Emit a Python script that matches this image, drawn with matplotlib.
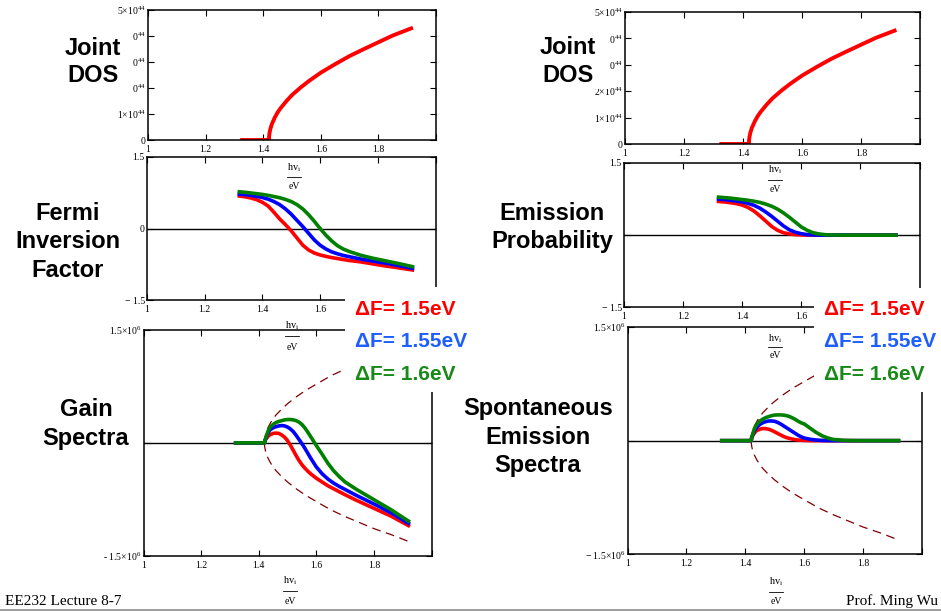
import matplotlib
matplotlib.use('Agg')
import matplotlib.pyplot as plt
from matplotlib.lines import Line2D
from matplotlib.patches import Rectangle

plt.rcParams['mathtext.fontset'] = 'custom'
plt.rcParams['mathtext.rm'] = 'Liberation Serif'
plt.rcParams['mathtext.it'] = 'Liberation Serif:italic'

# ---- data (x = photon energy in eV) ----
dos_x = [1.32, 1.40, 1.42, 1.4205, 1.422, 1.425, 1.43, 1.44, 1.45, 1.46, 1.48,
         1.50, 1.53, 1.56, 1.60, 1.65, 1.70, 1.75, 1.80, 1.85, 1.92]
dos_val = [0, 0, 0, 0.14, 0.27, 0.43, 0.61, 0.86, 1.06, 1.22, 1.49,
           1.73, 2.02, 2.28, 2.59, 2.92, 3.23, 3.50, 3.76, 4.02, 4.32]   # x1e44

fermi_x = [1.32, 1.34, 1.36, 1.38, 1.40, 1.42, 1.44, 1.46, 1.48, 1.50, 1.52,
           1.54, 1.56, 1.58, 1.60, 1.62, 1.64, 1.66, 1.68, 1.70, 1.74, 1.78,
           1.82, 1.86, 1.92]
fermi_red = [0.68, 0.665, 0.64, 0.605, 0.55, 0.47, 0.34, 0.20, 0.08, -0.05, -0.20,
             -0.35, -0.45, -0.515, -0.555, -0.585, -0.61, -0.63, -0.65, -0.67, -0.70, -0.74,
             -0.78, -0.815, -0.87]
fermi_blue = [0.72, 0.71, 0.695, 0.675, 0.65, 0.615, 0.565, 0.50, 0.41, 0.30, 0.17,
              0.04, -0.10, -0.24, -0.35, -0.43, -0.49, -0.53, -0.565, -0.59, -0.64, -0.68,
              -0.72, -0.765, -0.835]
fermi_green = [0.77, 0.76, 0.745, 0.73, 0.715, 0.695, 0.67, 0.645, 0.61, 0.565, 0.50,
               0.41, 0.29, 0.15, 0.0, -0.14, -0.26, -0.36, -0.43, -0.48, -0.56, -0.62,
               -0.67, -0.72, -0.80]

emis_red = [0.70, 0.69, 0.675, 0.655, 0.625, 0.575, 0.50, 0.40, 0.29, 0.18, 0.10,
            0.05, 0.025, 0.01, 0.004, 0, 0, 0, 0, 0, 0, 0,
            0, 0, 0]
emis_blue = [0.75, 0.74, 0.725, 0.71, 0.69, 0.66, 0.62, 0.56, 0.48, 0.39, 0.29,
             0.19, 0.11, 0.06, 0.03, 0.012, 0.005, 0, 0, 0, 0, 0,
             0, 0, 0]
emis_green = [0.79, 0.78, 0.77, 0.755, 0.74, 0.725, 0.705, 0.68, 0.645, 0.60, 0.54,
              0.46, 0.37, 0.27, 0.17, 0.10, 0.05, 0.025, 0.01, 0.004, 0, 0,
              0, 0, 0]

spec_x = [1.32, 1.40, 1.42, 1.422, 1.425, 1.43, 1.435, 1.44, 1.45, 1.46, 1.47,
          1.48, 1.49, 1.50, 1.51, 1.52, 1.53, 1.54, 1.55, 1.56, 1.57, 1.58,
          1.59, 1.60, 1.62, 1.64, 1.66, 1.68, 1.70, 1.74, 1.78, 1.82, 1.86, 1.92]
gain_red = [0, 0, 0, 0.03, 0.05, 0.075, 0.095, 0.11, 0.125, 0.13, 0.125,
            0.105, 0.075, 0.03, -0.03, -0.10, -0.17, -0.235, -0.29, -0.335, -0.375, -0.41,
            -0.44, -0.47, -0.52, -0.57, -0.61, -0.65, -0.69, -0.765, -0.835, -0.905, -0.975, -1.10]
gain_blue = [0, 0, 0, 0.035, 0.06, 0.11, 0.15, 0.175, 0.20, 0.215, 0.225,
             0.23, 0.225, 0.21, 0.185, 0.15, 0.10, 0.045, -0.01, -0.07, -0.135, -0.20,
             -0.26, -0.32, -0.41, -0.48, -0.535, -0.58, -0.62, -0.70, -0.775, -0.85, -0.93, -1.07]
gain_green = [0, 0, 0, 0.04, 0.07, 0.13, 0.18, 0.21, 0.245, 0.27, 0.285,
              0.295, 0.305, 0.31, 0.31, 0.305, 0.295, 0.275, 0.245, 0.20, 0.145, 0.085,
              0.025, -0.035, -0.15, -0.27, -0.37, -0.45, -0.52, -0.62, -0.71, -0.80, -0.89, -1.04]

spon_red = [0, 0, 0, 0.04, 0.065, 0.095, 0.12, 0.135, 0.152, 0.16, 0.158,
            0.15, 0.135, 0.115, 0.095, 0.075, 0.055, 0.04, 0.03, 0.02, 0.013, 0.008,
            0.005, 0.003, 0, 0, 0, 0, 0, 0, 0, 0, 0, 0]
spon_blue = [0, 0, 0, 0.045, 0.075, 0.12, 0.155, 0.18, 0.215, 0.238, 0.252,
             0.26, 0.26, 0.255, 0.24, 0.22, 0.195, 0.17, 0.145, 0.12, 0.095, 0.07,
             0.05, 0.035, 0.018, 0.008, 0.003, 0, 0, 0, 0, 0, 0, 0]
spon_green = [0, 0, 0, 0.05, 0.08, 0.15, 0.19, 0.22, 0.26, 0.285, 0.305,
              0.318, 0.33, 0.338, 0.34, 0.34, 0.337, 0.33, 0.318, 0.30, 0.28, 0.255,
              0.235, 0.22, 0.165, 0.11, 0.065, 0.035, 0.015, 0.003, 0, 0, 0, 0]

# dashed envelope (x1e6), drawn mirrored +/-
env_x = [1.42, 1.4205, 1.422, 1.425, 1.43, 1.44, 1.45, 1.46, 1.48, 1.50, 1.53,
         1.56, 1.60, 1.65, 1.70, 1.75, 1.80, 1.86, 1.92]
env_val = [0, 0.04, 0.08, 0.13, 0.185, 0.26, 0.32, 0.37, 0.45, 0.52, 0.61,
           0.69, 0.78, 0.89, 0.98, 1.06, 1.14, 1.22, 1.31]
env_flat_x = [1.32, 1.42]
env_flat_y = [0, 0]

x_ticks = [1, 1.2, 1.4, 1.6, 1.8]
x_ticklabels = ['1', '1.2', '1.4', '1.6', '1.8']
df_labels = ['\u0394F= 1.5eV', '\u0394F= 1.55eV', '\u0394F= 1.6eV']
df_colors = ['#ff0000', '#1e5eff', '#178a17']
line_colors = ['#ff0000', '#0000ff', '#008000']

W, H = 941, 611
fig = plt.figure(figsize=(W / 100, H / 100), dpi=100)
fig.patch.set_facecolor('white')


def px_axes(x0, y0, x1, y1):
    return fig.add_axes([x0 / W, 1 - y1 / H, (x1 - x0) / W, (y1 - y0) / H])


def ftext(x, y, s, **kw):
    return fig.text(x / W, 1 - y / H, s, **kw)


def setup(ax, ylim, yticks, ylabels, xlabels=x_ticklabels):
    ax.set_facecolor('none')
    ax.set_xlim(1, 2)
    ax.set_ylim(*ylim)
    ax.set_xticks(x_ticks + [2])
    ax.set_xticklabels(xlabels + [''], fontsize=7, family='Liberation Serif')
    ax.set_yticks(yticks)
    ax.set_yticklabels(ylabels, fontsize=7, family='Liberation Serif')
    ax.tick_params(axis='both', direction='in', top=True, right=True,
                   length=4.5, width=0.8)
    ax.tick_params(axis='x', pad=3.5)
    ax.tick_params(axis='y', pad=1.5)
    for sp in ax.spines.values():
        sp.set_linewidth(1.1)


def frac_label(xc, y_hv, y_ev):
    ftext(xc, y_hv, r'$\mathrm{hv}_\mathrm{i}$', ha='center', va='center',
          fontsize=7.5, zorder=6)
    ym = (y_hv + y_ev) / 2 - 0.5
    fig.add_artist(Line2D([(xc - 7) / W, (xc + 7) / W], [1 - ym / H, 1 - ym / H],
                          transform=fig.transFigure, color='black', lw=0.6, zorder=6))
    ftext(xc, y_ev, 'eV', ha='center', va='center', fontsize=7,
          family='Liberation Serif', zorder=6)


def white_box(x0, y0, x1, y1):
    fig.add_artist(Rectangle((x0 / W, 1 - y1 / H), (x1 - x0) / W, (y1 - y0) / H,
                             transform=fig.transFigure, facecolor='white',
                             edgecolor='none', zorder=5))


def big_label(xc, baselines, lines):
    for yb, s in zip(baselines, lines):
        ftext(xc, yb, s, ha='center', va='baseline', fontsize=17,
              fontweight='bold', family='Liberation Sans', zorder=7)


dos_ticks = [0, 1, 2, 3, 4, 5]
dos_labels = ['0'] + ['%d\u00d710$^{44}$' % k for k in range(1, 6)]
# 1.8 label of the middle panels is hidden behind the dF text on the slide
mid_xlabels = ['1', '1.2', '1.4', '1.6', '']

# ---- joint DOS (both columns) ----
for rect in [(148, 10, 436, 140), (625, 12, 920, 144)]:
    ax = px_axes(*rect)
    setup(ax, (0, 5), dos_ticks, dos_labels)
    ax.plot(dos_x, dos_val, color='#ff0000', lw=2.8, solid_capstyle='butt')

# ---- Fermi inversion factor ----
ax = px_axes(147, 157, 435.5, 300)
setup(ax, (-1.5, 1.5), [-1.5, 0, 1.5], ['\u2212 1.5', '0', '1.5'], mid_xlabels)
ax.axhline(0, color='black', lw=1.0)
for yv, c in zip([fermi_red, fermi_blue, fermi_green], line_colors):
    ax.plot(fermi_x, yv, color=c, lw=2.6)

# ---- emission probability ----
ax = px_axes(624, 163, 919.5, 307.3)
setup(ax, (-1.5, 1.5), [-1.5, 0, 1.5], ['\u2212 1.5', '', '1.5'], mid_xlabels)
ax.axhline(0, color='black', lw=1.0)
for yv, c in zip([emis_red, emis_blue, emis_green], line_colors):
    ax.plot(fermi_x, yv, color=c, lw=2.6)

# ---- gain and spontaneous emission spectra ----
spec_sets = [
    ((143.5, 330, 431.5, 555.7), [gain_red, gain_blue, gain_green],
     ['- 1.5\u00d710$^{6}$', '', '1.5\u00d710$^{6}$']),
    ((627.5, 327, 922, 554.3), [spon_red, spon_blue, spon_green],
     ['\u2212 1.5\u00d710$^{6}$', '', '1.5\u00d710$^{6}$']),
]
for rect, series, ylabs in spec_sets:
    ax = px_axes(*rect)
    setup(ax, (-1.5, 1.5), [-1.5, 0, 1.5], ylabs)
    ax.axhline(0, color='black', lw=1.0)
    for sgn in [1, -1]:
        ax.plot(env_x, [sgn * v for v in env_val], color='#800000', lw=0.9,
                dashes=(7, 4.5))
    ax.plot(env_flat_x, env_flat_y, color='#800000', lw=1.5)
    for yv, c in zip(series, line_colors):
        ax.plot(spec_x, yv, color=c, lw=2.6)

# axis labels hv_i / eV (they sit over the next panel like on the slide)
frac_label(294, 168, 187)
frac_label(292, 326, 347)
frac_label(290, 581, 601)
frac_label(775, 170, 190)
frac_label(775, 339, 356)
frac_label(776, 582, 602)

# white areas behind the slide text
white_box(55, 20, 133, 100)
white_box(530, 20, 609, 89)
white_box(345, 287, 442, 392)
white_box(814, 288, 941, 392)

big_label(93, [55, 82], ['Joint', 'DOS'])
big_label(568, [54, 82], ['Joint', 'DOS'])
big_label(67.5, [219.5, 248.5, 277], ['Fermi', 'Inversion', 'Factor'])
big_label(552, [219.5, 248.5], ['Emission', 'Probability'])
big_label(86, [416.5, 445], ['Gain', 'Spectra'])
big_label(538, [415.5, 444.5, 472], ['Spontaneous', 'Emission', 'Spectra'])

for x0 in [355, 824]:
    for yb, s, c in zip([314.5, 347, 380], df_labels, df_colors):
        ftext(x0, yb, s, ha='left', va='baseline', fontsize=15, fontweight='bold',
              family='Liberation Sans', color=c, zorder=7)

ftext(5, 605, 'EE232 Lecture 8-7', ha='left', va='baseline', fontsize=11,
      family='Liberation Serif', zorder=7)
ftext(938, 605, 'Prof. Ming Wu', ha='right', va='baseline', fontsize=11,
      family='Liberation Serif', zorder=7)
fig.add_artist(Line2D([0, 1], [1 - 609.5 / H, 1 - 609.5 / H], transform=fig.transFigure,
                      color='0.55', lw=1.2, zorder=7))

fig.savefig('out.png', dpi=100)
